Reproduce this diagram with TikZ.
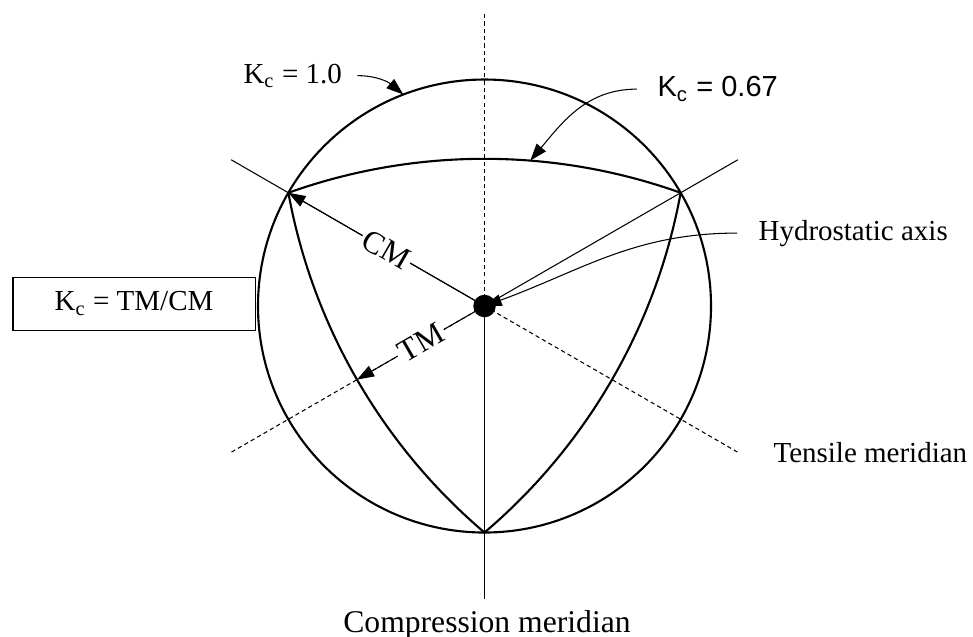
\documentclass[tikz,border=0pt]{standalone}
\usepackage{fontspec}
\setmainfont{Liberation Serif}
\newfontfamily\arialfont{Liberation Sans}
\usetikzlibrary{arrows.meta, positioning, calc}

\begin{document}
\begin{tikzpicture}[
  >={Triangle[length=6.5pt,width=4.5pt]},
  meridian/.style={line width=0.4pt},
  tmeridian/.style={line width=0.4pt, dash pattern=on 1.6pt off 1.2pt},
  surface/.style={line width=0.8pt},
  lbl/.style={inner sep=0pt, font=\fontsize{11}{13}\selectfont},
  onarrow/.style={midway, sloped, fill=white, inner sep=1pt, font=\fontsize{12}{14}\selectfont}
]
  \useasboundingbox (-6.46,-4.413) rectangle (6.513,4.08);
  \node[circle, fill, inner sep=0pt, minimum size=0.3cm] (O) at (0,0) {};
  % meridians
  \foreach \a in {30,150,270} \draw[meridian] (O.center) -- (\a:3.9);
  \foreach \a in {90,210,330} \draw[tmeridian] (O.center) -- (\a:3.9);
  % K_c = 1.0
  \draw[surface] (O.center) circle (3.02);
  % K_c = 0.65, three arcs through the CM corners
  \foreach \a in {90,210,330}
    \draw[surface] (\a+60:3.02) arc[start angle=\a+19.65, end angle=\a-19.65, radius=7.7765];
  \coordinate (cmL) at (150:3.02);
  \coordinate (tmL) at (210:1.963);
  \draw[meridian,->] (O.center) -- (cmL) node[onarrow] {CM};
  \draw[meridian,->] (O.center) -- (tmL) node[onarrow] {TM};
  % labels
  \node[lbl, anchor=base west] (k1) at (-3.22,2.973) {K\textsubscript{c} = 1.0};
  \coordinate[right=0.2cm of k1.east] (k1s);
  \coordinate (k1e) at (111:3.02);
  \draw[meridian,->] (k1s) to[out=0,in=140] (k1e);
  \node[lbl, anchor=base west, font=\arialfont\fontsize{11}{13}\selectfont] (k067) at (2.3,2.787) {K\textsubscript{c} = 0.67};
  \coordinate[left=0.27cm of k067.west] (k067s);
  \coordinate (k067e) at ($(270:5.8135)+(85.5:7.7765)$);
  \draw[meridian,->] (k067s) to[out=180,in=50] (k067e);
  \node[lbl, anchor=base west] (hyd) at (3.647,0.88) {Hydrostatic axis};
  \coordinate[left=0.28cm of hyd.west] (hyds);
  \draw[meridian,->] (hyds) to[out=180,in=20] (O.center);
  \node[lbl, anchor=base west] (tens) at (3.847,-2.093) {Tensile meridian};
  \node[lbl, anchor=base, font=\fontsize{12}{14}\selectfont] (comp) at (0.033,-4.347) {Compression meridian};
  \node[draw, line width=0.4pt, minimum width=3.227cm, minimum height=0.707cm, lbl] (kbox) at (-4.673,0.033) {K\textsubscript{c} = TM/CM};
\end{tikzpicture}
\end{document}
